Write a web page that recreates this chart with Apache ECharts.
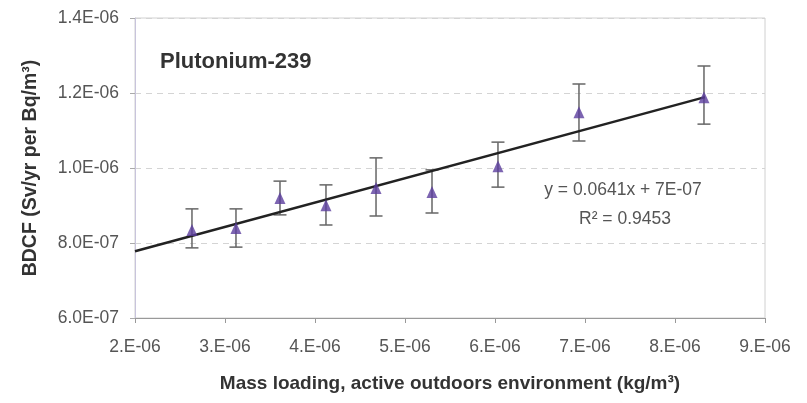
<!DOCTYPE html>
<html>
<head>
<meta charset="utf-8">
<script src="https://cdn.jsdelivr.net/npm/echarts@6/dist/echarts.min.js"></script>
<style>html,body{margin:0;padding:0;background:#fff;}#c{width:807px;height:403px;}</style>
</head>
<body>
<div id="c"></div>
<script>
// Data
const massLoading = [2.633e-6, 3.122e-6, 3.611e-6, 4.122e-6, 4.678e-6, 5.3e-6, 6.033e-6, 6.933e-6, 8.322e-6];
const bdcf        = [8.35e-7, 8.40e-7, 9.20e-7, 9.01e-7, 9.47e-7, 9.36e-7, 1.005e-6, 1.149e-6, 1.189e-6];
const errHigh     = [8.91e-7, 8.91e-7, 9.65e-7, 9.55e-7, 1.027e-6, 9.95e-7, 1.069e-6, 1.224e-6, 1.272e-6];
const errLow      = [7.87e-7, 7.89e-7, 8.75e-7, 8.48e-7, 8.72e-7, 8.80e-7, 9.49e-7, 1.072e-6, 1.117e-6];
const trendX      = [2.0e-6, 8.333e-6];
const trendY      = [7.78e-7, 1.189e-6];
const yTicks      = [6e-7, 8e-7, 1e-6, 1.2e-6, 1.4e-6];
const xTicks      = [2e-6, 3e-6, 4e-6, 5e-6, 6e-6, 7e-6, 8e-6, 9e-6];
const titleText   = 'Plutonium-239';
const eqText      = 'y = 0.0641x + 7E-07';
const r2Text      = 'R\u00B2 = 0.9453';

function sci(v, digits) {
  if (!v) return '0';
  let e = Math.floor(Math.log10(Math.abs(v)) + 1e-9);
  let m = v / Math.pow(10, e);
  if (Math.round(m * 10) >= 100) { m /= 10; e += 1; }
  const es = (e < 0 ? '-' : '+') + String(Math.abs(e)).padStart(2, '0');
  return (digits === 0 ? Math.round(m) + '.' : m.toFixed(digits)) + 'E' + es;
}

const chart = echarts.init(document.getElementById('c'), null, {renderer: 'canvas'});
const labelColor = '#555';
const font = 'Arial, "Liberation Sans", sans-serif';

chart.setOption({
  animation: false,
  backgroundColor: '#fff',
  title: {
    text: titleText, left: 155, top: 46,
    textStyle: {fontFamily: font, fontSize: 22, fontWeight: 'bold', color: '#333'}
  },
  grid: {left: 135, right: 42, top: 18, bottom: 85, show: true, borderColor: '#d0d0d0', borderWidth: 1},
  xAxis: {
    type: 'value', min: xTicks[0], max: xTicks[xTicks.length - 1], interval: 1e-6,
    name: 'Mass loading, active outdoors environment (kg/m\u00B3)',
    nameLocation: 'middle', nameGap: 56,
    nameTextStyle: {fontFamily: font, fontSize: 19, fontWeight: 'bold', color: '#333'},
    axisLine: {show: true, lineStyle: {color: '#999'}},
    axisTick: {show: true, length: 5, lineStyle: {color: '#999'}},
    splitLine: {show: false},
    axisLabel: {fontFamily: font, fontSize: 17.5, color: labelColor, margin: 20, formatter: v => sci(v, 0)}
  },
  yAxis: {
    type: 'value', min: yTicks[0], max: yTicks[yTicks.length - 1], interval: 2e-7,
    name: 'BDCF (Sv/yr per Bq/m\u00B3)',
    nameLocation: 'middle', nameGap: 94,
    nameTextStyle: {fontFamily: font, fontSize: 19.5, fontWeight: 'bold', color: '#333'},
    axisLine: {show: true, lineStyle: {color: '#c8c4dc'}},
    axisTick: {show: true, length: 5, lineStyle: {color: '#aaa'}},
    splitLine: {show: true, lineStyle: {color: '#d4d4d4', type: [6, 5]}},
    axisLabel: {fontFamily: font, fontSize: 17.5, color: labelColor, margin: 16, formatter: v => sci(v, 1)}
  },
  series: [
    {
      type: 'line', data: trendX.map((x, i) => [x, trendY[i]]),
      symbol: 'none', lineStyle: {color: '#222', width: 2.5}, z: 3
    },
    {
      type: 'custom',
      data: massLoading.map((x, i) => [x, errLow[i], errHigh[i]]),
      renderItem: function (params, api) {
        const x = api.value(0);
        const lo = api.coord([x, api.value(1)]);
        const hi = api.coord([x, api.value(2)]);
        const w = 6.5;
        const st = {stroke: '#666', lineWidth: 1.5};
        return {
          type: 'group',
          children: [
            {type: 'line', shape: {x1: lo[0], y1: lo[1], x2: hi[0], y2: hi[1]}, style: st},
            {type: 'line', shape: {x1: lo[0] - w, y1: lo[1], x2: lo[0] + w, y2: lo[1]}, style: st},
            {type: 'line', shape: {x1: hi[0] - w, y1: hi[1], x2: hi[0] + w, y2: hi[1]}, style: st}
          ]
        };
      },
      z: 2
    },
    {
      type: 'scatter', data: massLoading.map((x, i) => [x, bdcf[i]]),
      symbol: 'triangle', symbolSize: [11, 12],
      itemStyle: {color: '#5b3d9e'}, z: 4
    }
  ],
  graphic: [
    {type: 'text', x: 623, y: 190, style: {text: eqText, font: '17.5px ' + font, fill: '#555', textAlign: 'center', textVerticalAlign: 'middle'}},
    {type: 'text', x: 625, y: 219, style: {text: r2Text, font: '17.5px ' + font, fill: '#555', textAlign: 'center', textVerticalAlign: 'middle'}}
  ]
});
</script>
</body>
</html>
